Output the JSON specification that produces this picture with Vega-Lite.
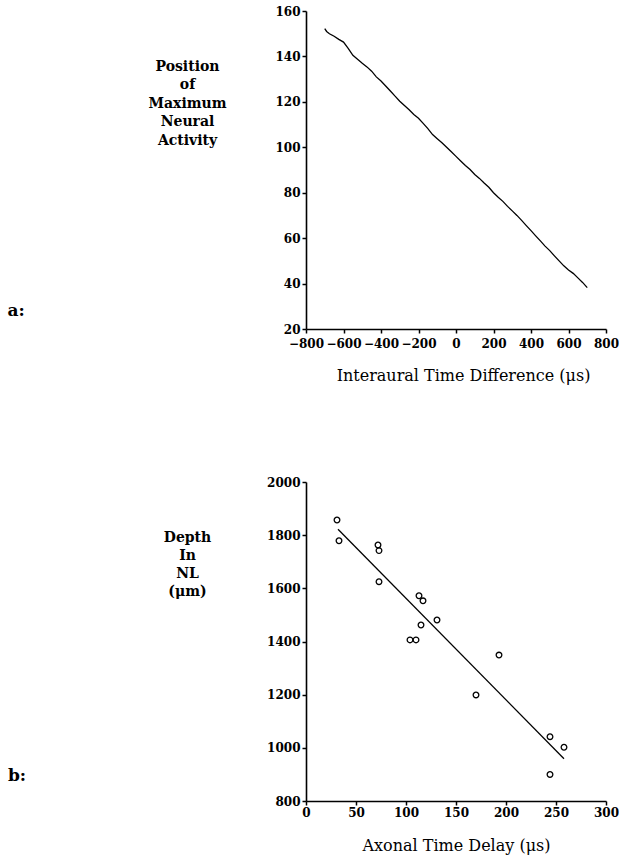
{
  "$schema": "https://vega.github.io/schema/vega-lite/v6.json",
  "background": "white",
  "padding": {"left": 7, "top": 5, "right": 5, "bottom": 5},
  "spacing": 93,
  "config": {
    "view": {"stroke": null},
    "axis": {
      "grid": false,
      "domainColor": "black",
      "domainWidth": 1.6,
      "tickColor": "black",
      "tickWidth": 1.5,
      "tickSize": 4,
      "labelFont": "DejaVu Serif",
      "labelFontWeight": "bold",
      "labelFontSize": 12,
      "labelColor": "black",
      "labelPadding": 2,
      "labelOverlap": false,
      "labelFlush": false,
      "format": "d",
      "titleColor": "black"
    },
    "title": {"font": "DejaVu Serif", "fontWeight": "bold", "fontSize": 17, "color": "black"}
  },
  "datasets": {
    "itd": [
      {"itd": -700, "pos": 152.2}, {"itd": -690, "pos": 151.0}, {"itd": -675, "pos": 150.0},
      {"itd": -650, "pos": 148.9}, {"itd": -625, "pos": 147.5}, {"itd": -600, "pos": 146.3},
      {"itd": -575, "pos": 143.5}, {"itd": -550, "pos": 140.5}, {"itd": -525, "pos": 138.8},
      {"itd": -500, "pos": 137.0}, {"itd": -475, "pos": 135.4}, {"itd": -450, "pos": 133.5},
      {"itd": -425, "pos": 131.0}, {"itd": -400, "pos": 129.2}, {"itd": -375, "pos": 127.0},
      {"itd": -350, "pos": 124.8}, {"itd": -325, "pos": 122.5}, {"itd": -300, "pos": 120.3},
      {"itd": -275, "pos": 118.4}, {"itd": -250, "pos": 116.5}, {"itd": -225, "pos": 114.4},
      {"itd": -200, "pos": 112.8}, {"itd": -175, "pos": 110.5}, {"itd": -150, "pos": 108.2},
      {"itd": -125, "pos": 105.6}, {"itd": -100, "pos": 103.8}, {"itd": -75, "pos": 102.0},
      {"itd": -50, "pos": 100.0}, {"itd": -25, "pos": 98.0}, {"itd": 0, "pos": 96.0},
      {"itd": 25, "pos": 94.0}, {"itd": 50, "pos": 92.0}, {"itd": 75, "pos": 90.2},
      {"itd": 100, "pos": 88.0}, {"itd": 125, "pos": 86.3}, {"itd": 150, "pos": 84.3},
      {"itd": 175, "pos": 82.4}, {"itd": 200, "pos": 80.0}, {"itd": 225, "pos": 78.0},
      {"itd": 250, "pos": 76.2}, {"itd": 275, "pos": 74.0}, {"itd": 300, "pos": 72.0},
      {"itd": 325, "pos": 70.0}, {"itd": 350, "pos": 67.8}, {"itd": 375, "pos": 65.5},
      {"itd": 400, "pos": 63.3}, {"itd": 425, "pos": 61.0}, {"itd": 450, "pos": 58.8},
      {"itd": 475, "pos": 56.5}, {"itd": 500, "pos": 54.5}, {"itd": 525, "pos": 52.2},
      {"itd": 550, "pos": 50.0}, {"itd": 575, "pos": 47.8}, {"itd": 600, "pos": 46.0},
      {"itd": 625, "pos": 44.5}, {"itd": 650, "pos": 42.5}, {"itd": 675, "pos": 40.5},
      {"itd": 700, "pos": 38.2}
    ],
    "depth": [
      {"delay": 31, "depth": 1857}, {"delay": 33, "depth": 1779}, {"delay": 72, "depth": 1763},
      {"delay": 73, "depth": 1742}, {"delay": 73, "depth": 1625}, {"delay": 113, "depth": 1572},
      {"delay": 117, "depth": 1553}, {"delay": 115, "depth": 1462}, {"delay": 104, "depth": 1406},
      {"delay": 110, "depth": 1406}, {"delay": 131, "depth": 1481}, {"delay": 193, "depth": 1349},
      {"delay": 170, "depth": 1199}, {"delay": 244, "depth": 1042}, {"delay": 258, "depth": 1002},
      {"delay": 244, "depth": 900}
    ],
    "fit": [
      {"delay": 32, "depth": 1822}, {"delay": 258, "depth": 959}
    ]
  },
  "vconcat": [
    {
      "width": 300,
      "height": 318,
      "title": {"text": "a:", "orient": "left", "anchor": "start", "angle": 0, "align": "right", "baseline": "alphabetic", "offset": 106, "dy": -67},
      "data": {"name": "itd"},
      "mark": {"type": "line", "color": "black", "strokeWidth": 1.3},
      "encoding": {
        "x": {
          "field": "itd", "type": "quantitative",
          "scale": {"domain": [-800, 800], "nice": false, "zero": false},
          "axis": {
            "values": [-800, -600, -400, -200, 0, 200, 400, 600, 800],
            "title": "Interaural Time Difference (μs)",
            "titleFont": "DejaVu Serif", "titleFontSize": 16, "titleFontWeight": "normal",
            "labelPadding": 5,
            "titlePadding": 18, "titleX": 157, "titleAlign": "center"
          }
        },
        "y": {
          "field": "pos", "type": "quantitative",
          "scale": {"domain": [20, 160], "nice": false, "zero": false},
          "axis": {
            "values": [20, 40, 60, 80, 100, 120, 140, 160],
            "title": ["Position", "of", "Maximum", "Neural", "Activity"],
            "titleFont": "DejaVu Serif", "titleFontSize": 14, "titleFontWeight": "bold",
            "titleAngle": 0, "titleAlign": "center", "titleBaseline": "top",
            "titleX": -119, "titleY": 48, "titleLineHeight": 18.5
          }
        }
      }
    },
    {
      "width": 300,
      "height": 319,
      "title": {"text": "b:", "orient": "left", "anchor": "start", "angle": 0, "align": "right", "baseline": "alphabetic", "offset": 119, "dy": -72},
      "layer": [
        {
          "data": {"name": "depth"},
          "mark": {"type": "point", "shape": "circle", "filled": false, "color": "black", "size": 32, "strokeWidth": 1.3, "opacity": 1},
          "encoding": {
            "x": {
              "field": "delay", "type": "quantitative",
              "scale": {"domain": [0, 300], "nice": false},
              "axis": {
                "values": [0, 50, 100, 150, 200, 250, 300],
                "title": "Axonal Time Delay (μs)",
                "titleFont": "DejaVu Serif", "titleFontSize": 16, "titleFontWeight": "normal",
                "titlePadding": 19
              }
            },
            "y": {
              "field": "depth", "type": "quantitative",
              "scale": {"domain": [800, 2000], "nice": false, "zero": false},
              "axis": {
                "values": [800, 1000, 1200, 1400, 1600, 1800, 2000],
                "title": ["Depth", "In", "NL", "(μm)"],
                "titleFont": "DejaVu Serif", "titleFontSize": 14, "titleFontWeight": "bold",
                "titleAngle": 0, "titleAlign": "center", "titleBaseline": "top",
                "titleX": -119, "titleY": 48, "titleLineHeight": 18
              }
            }
          }
        },
        {
          "data": {"name": "fit"},
          "mark": {"type": "line", "color": "black", "strokeWidth": 1.3},
          "encoding": {
            "x": {"field": "delay", "type": "quantitative"},
            "y": {"field": "depth", "type": "quantitative"}
          }
        }
      ]
    }
  ]
}
